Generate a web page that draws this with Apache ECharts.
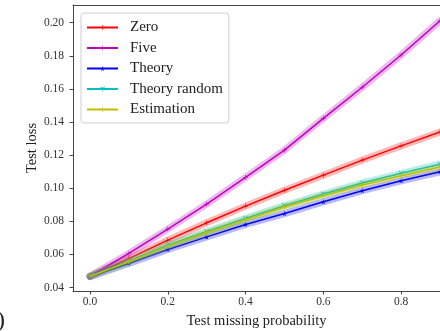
<!DOCTYPE html>
<html><head><meta charset="utf-8">
<script src="https://cdn.jsdelivr.net/npm/echarts@6/dist/echarts.min.js"></script>
<style>html,body{margin:0;padding:0;background:#fff}#c{width:440px;height:331px}</style>
</head><body><div id="c"></div>
<script>
// ---- data ----
const probs = [0, 0.1, 0.2, 0.3, 0.4, 0.5, 0.6, 0.7, 0.8, 0.9];
const zeroVals = [0.0468, 0.0575, 0.0686, 0.0791, 0.0892, 0.0988, 0.1079, 0.1170, 0.1256, 0.1340];
const fiveVals = [0.0468, 0.0606, 0.0753, 0.0904, 0.1065, 0.1230, 0.1422, 0.1610, 0.1805, 0.2012];
const theoryVals = [0.0466, 0.0545, 0.0630, 0.0706, 0.0781, 0.0847, 0.0918, 0.0985, 0.1045, 0.1099];
const theoryRandomVals = [0.0468, 0.0558, 0.0656, 0.0738, 0.0818, 0.0895, 0.0965, 0.1032, 0.1090, 0.1145];
const estimationVals = [0.0468, 0.0555, 0.0650, 0.0732, 0.0810, 0.0887, 0.0955, 0.1020, 0.1075, 0.1128];
const seriesNames = ['Zero', 'Five', 'Theory', 'Theory random', 'Estimation'];
const xTicks = [0, 0.2, 0.4, 0.6, 0.8];
const yTicks = [0.04, 0.06, 0.08, 0.10, 0.12, 0.14, 0.16, 0.18, 0.20];

// ---- styling ----
const FONT = '"Liberation Serif", "Times New Roman", serif';
const colors = ['#ff0000', '#bf00bf', '#0000ff', '#00bfbf', '#bfbf00'];
const PLUS = 'path://M4.4,0h1.2v4.4h4.4v1.2h-4.4v4.4h-1.2v-4.4h-4.4v-1.2h4.4z';
const STAR = 'path://M5,0L6.2,3.6H10L7,5.9L8.1,9.5L5,7.3L1.9,9.5L3,5.9L0,3.6H3.8Z';
const TRI = 'path://M4.4,5h1.2v5h-1.2z M4.7,5.5L0.5,3L1.1,2L5.3,4.5z M5.3,5.5L9.5,3L8.9,2L4.7,4.5z';
const symbols = [PLUS, PLUS, STAR, TRI, PLUS];
const allVals = [zeroVals, fiveVals, theoryVals, theoryRandomVals, estimationVals];

const series = [];
allVals.forEach((vals, i) => {
  const d = probs.map((p, k) => [p, vals[k]]);
  series.push({
    name: seriesNames[i] + ' band', type: 'line', data: d, showSymbol: false, silent: true,
    lineStyle: { color: colors[i], width: 7, opacity: 0.28, cap: 'round' },
    itemStyle: { color: colors[i] }, z: 2 + i * 2, animation: false, clip: false
  });
  series.push({
    name: seriesNames[i], type: 'line', data: d, symbol: symbols[i], symbolSize: 5,
    showSymbol: true, clip: false,
    lineStyle: { color: colors[i], width: 1.5 },
    itemStyle: { color: colors[i] }, z: 3 + i * 2, animation: false
  });
});

const axisLineStyle = { color: '#444', width: 1 };
const chart = echarts.init(document.getElementById('c'), null, { renderer: 'canvas' });
chart.setOption({
  animation: false,
  backgroundColor: '#fff',
  grid: { left: 73, top: 5, right: 0, bottom: 40, show: false, containLabel: false, outerBoundsMode: 'none' },
  xAxis: [{
    type: 'value', min: -0.0437, max: 0.9,
    name: 'Test missing probability', nameLocation: 'middle', nameGap: 23, nameMoveOverlap: false,
    nameTextStyle: { fontFamily: FONT, fontSize: 14.5, color: '#222' },
    axisLine: { show: true, onZero: false, lineStyle: axisLineStyle },
    axisTick: { show: true, length: 3.5, customValues: xTicks, lineStyle: { color: '#444' } },
    axisLabel: { customValues: xTicks, margin: 5, fontFamily: FONT, fontSize: 11.5, color: '#333',
      formatter: v => v.toFixed(1) },
    splitLine: { show: false }
  }, {
    type: 'value', min: -0.0437, max: 0.9, position: 'top',
    axisLine: { show: true, onZero: false, lineStyle: axisLineStyle },
    axisTick: { show: false }, axisLabel: { show: false }, splitLine: { show: false }
  }],
  yAxis: {
    type: 'value', min: 0.0379, max: 0.2107,
    name: 'Test loss', nameLocation: 'middle', nameGap: 33, nameMoveOverlap: false,
    nameTextStyle: { fontFamily: FONT, fontSize: 14.5, color: '#222' },
    axisLine: { show: true, onZero: false, lineStyle: axisLineStyle },
    axisTick: { show: true, length: 3.5, customValues: yTicks, lineStyle: { color: '#444' } },
    axisLabel: { customValues: yTicks, margin: 9, fontFamily: FONT, fontSize: 11.5, color: '#333',
      formatter: v => v.toFixed(2) },
    splitLine: { show: false }
  },
  legend: {
    data: seriesNames, orient: 'vertical', left: 81, top: 13,
    itemWidth: 31, itemHeight: 6, itemGap: 5.5,
    padding: [7, 6, 6, 5],
    backgroundColor: 'rgba(255,255,255,0.85)', borderColor: '#d0d0d0', borderWidth: 1, borderRadius: 3,
    textStyle: { fontFamily: FONT, fontSize: 15, color: '#222', padding: [0, 0, 0, 7] }
  },
  graphic: [{ type: 'text', left: -3, top: 309, style: { text: ')', font: '24px ' + FONT, fill: '#222' } }],
  series: series
});
</script></body></html>
